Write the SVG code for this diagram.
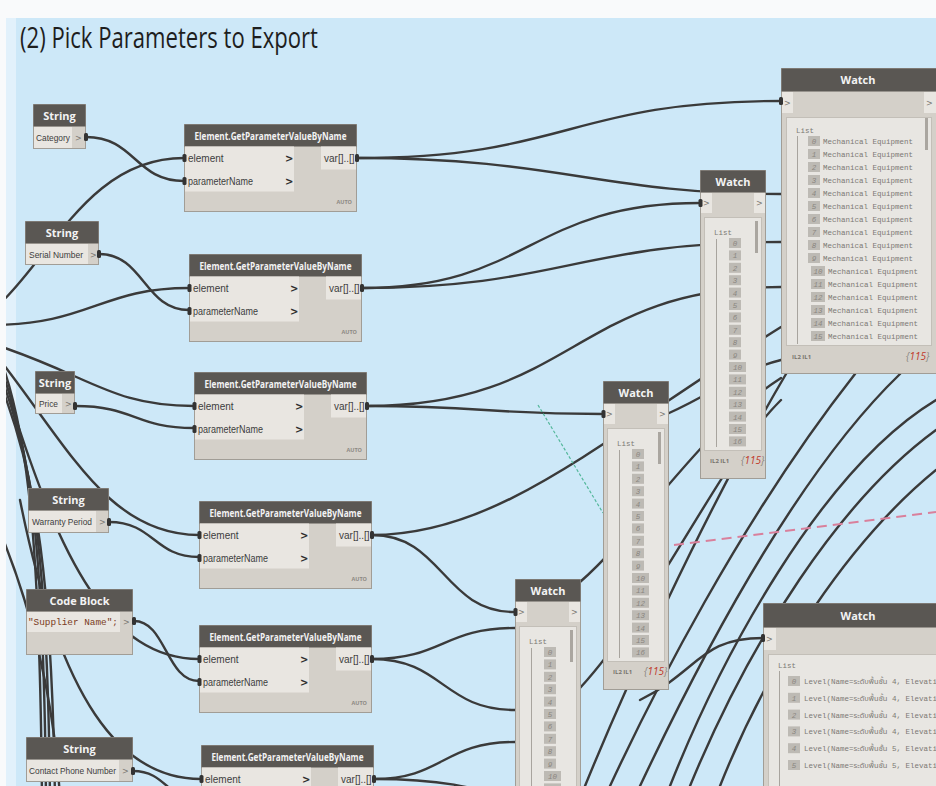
<svg xmlns="http://www.w3.org/2000/svg" width="936" height="786" viewBox="0 0 936 786">
<defs>
<style>
.wire{fill:none;stroke:#3a3a3a;stroke-width:2.4;stroke-linecap:round}
.nb{fill:#d4d0c9;stroke:#a19d96;stroke-width:1}
.nh{fill:#5a5753}
.cell{fill:#e9e6e1}
.panel{fill:#e8e6e2;stroke:#c3bfb8;stroke-width:1}
.ht{font-family:"Open Sans","Noto Sans",sans-serif;font-weight:700;font-size:11px;fill:#f3f3f3}
.lt{font-family:"Liberation Sans",Arial,sans-serif;font-size:10px;fill:#3d3d3d}
.sl{font-family:"Liberation Sans",Arial,sans-serif;font-size:9px;fill:#3d3d3d}
.chev{font-family:"DejaVu Sans",sans-serif;font-weight:bold;font-size:10px;fill:#2e2e2e}
.gt{font-family:"DejaVu Sans",sans-serif;font-size:8px;fill:#7a7772}
.auto{font-family:"Open Sans",sans-serif;font-weight:700;font-size:5.5px;fill:#8d8983}
.mono{font-family:"Liberation Mono","DejaVu Sans Mono","Noto Sans Thai",monospace;font-size:7.5px;fill:#7c7974}
.idx{fill:#bdbab4}
.idt{font-family:"Liberation Mono","DejaVu Sans Mono",monospace;font-size:7.5px;fill:#8a8680;font-style:italic;text-anchor:middle}
.ftr{font-family:"Open Sans",sans-serif;font-weight:700;font-size:6px;fill:#77736d}
.cnt{font-family:"Open Sans",sans-serif;font-style:italic;font-size:10px;fill:#8a8680}
.red{fill:#c0392b}
.port{fill:#333}
.vl{stroke:#a8a49e;stroke-width:1}
</style>

<!-- Element.GetParameterValueByName node body -->
<g id="egp">
<rect class="nb" x="0.5" y="0.5" width="172" height="87"/>
<rect class="nh" x="0.5" y="0.5" width="172" height="22"/>
<text class="ht" x="86.5" y="15.5" text-anchor="middle" textLength="152" lengthAdjust="spacingAndGlyphs">Element.GetParameterValueByName</text>
<rect class="cell" x="1" y="22.5" width="109" height="45"/>
<text class="lt" x="4" y="38">element</text>
<text class="lt" x="4" y="61" textLength="65" lengthAdjust="spacingAndGlyphs">parameterName</text>
<text class="chev" x="101" y="38">&gt;</text>
<text class="chev" x="101" y="61">&gt;</text>
<rect class="cell" x="137" y="22.5" width="35" height="23"/>
<text class="lt" x="140" y="38">var[]..[]</text>
<text class="auto" x="168" y="80" text-anchor="end">AUTO</text>
<rect class="port" x="-1.5" y="30" width="4" height="8" rx="1.5"/>
<rect class="port" x="-1.5" y="53" width="4" height="8" rx="1.5"/>
<rect class="port" x="171" y="30" width="4" height="8" rx="1.5"/>
</g>

<!-- narrow Watch node with an index-only list -->
<g id="wn">
<rect class="nb" x="0.5" y="0.5" width="65" height="308"/>
<rect class="nh" x="0.5" y="0.5" width="65" height="22"/>
<text class="ht" x="33" y="15.5" text-anchor="middle">Watch</text>
<rect class="cell" x="1" y="23" width="11" height="20"/>
<rect class="cell" x="54" y="23" width="11" height="20"/>
<text class="gt" x="3" y="36">&gt;</text>
<text class="gt" x="56" y="36">&gt;</text>
<rect class="panel" x="4.5" y="47.5" width="57" height="233"/>
<text class="mono" x="14" y="65">List</text>
<line class="vl" x1="16.5" y1="69" x2="16.5" y2="277"/>
<rect x="55" y="51" width="3" height="32" fill="#aaa6a0"/>
<g>
<rect class="idx" x="29" y="68" width="12" height="10"/><text class="idt" x="35" y="76">0</text>
<rect class="idx" x="29" y="80.4" width="12" height="10"/><text class="idt" x="35" y="88.4">1</text>
<rect class="idx" x="29" y="92.8" width="12" height="10"/><text class="idt" x="35" y="100.8">2</text>
<rect class="idx" x="29" y="105.2" width="12" height="10"/><text class="idt" x="35" y="113.2">3</text>
<rect class="idx" x="29" y="117.6" width="12" height="10"/><text class="idt" x="35" y="125.6">4</text>
<rect class="idx" x="29" y="130" width="12" height="10"/><text class="idt" x="35" y="138">5</text>
<rect class="idx" x="29" y="142.4" width="12" height="10"/><text class="idt" x="35" y="150.4">6</text>
<rect class="idx" x="29" y="154.8" width="12" height="10"/><text class="idt" x="35" y="162.8">7</text>
<rect class="idx" x="29" y="167.2" width="12" height="10"/><text class="idt" x="35" y="175.2">8</text>
<rect class="idx" x="29" y="179.6" width="12" height="10"/><text class="idt" x="35" y="187.6">9</text>
<rect class="idx" x="29" y="192" width="17" height="10"/><text class="idt" x="37.5" y="200">10</text>
<rect class="idx" x="29" y="204.4" width="17" height="10"/><text class="idt" x="37.5" y="212.4">11</text>
<rect class="idx" x="29" y="216.8" width="17" height="10"/><text class="idt" x="37.5" y="224.8">12</text>
<rect class="idx" x="29" y="229.2" width="17" height="10"/><text class="idt" x="37.5" y="237.2">13</text>
<rect class="idx" x="29" y="241.6" width="17" height="10"/><text class="idt" x="37.5" y="249.6">14</text>
<rect class="idx" x="29" y="254" width="17" height="10"/><text class="idt" x="37.5" y="262">15</text>
<rect class="idx" x="29" y="266.4" width="17" height="10"/><text class="idt" x="37.5" y="274.4">16</text>
</g>
<text class="ftr" x="10" y="293">IL2 IL1</text>
<text class="cnt" x="41" y="294">{<tspan class="red">115</tspan>}</text>
<rect class="port" x="-1.5" y="29" width="4" height="8" rx="1.5"/>
</g>

<clipPath id="canvas"><rect x="6" y="18" width="930" height="768"/></clipPath>
</defs>

<!-- canvas -->
<rect width="936" height="786" fill="#f9fafb"/>
<rect x="6" y="18" width="930" height="768" fill="#cde8f8"/>
<rect x="6" y="18" width="10" height="768" fill="#e2f1fb"/>

<text x="20" y="48" font-family="Open Sans, Noto Sans, sans-serif" font-size="30" fill="#1e1e1e" textLength="298" lengthAdjust="spacingAndGlyphs">(2) Pick Parameters to Export</text>

<!-- connectors -->
<g id="connectors" clip-path="url(#canvas)">
<!-- string inputs to parameterName -->
<path class="wire" d="M86,137 C135,137 135,181 184,181"/>
<path class="wire" d="M99,254 C144,254 144,310 189,310"/>
<path class="wire" d="M75,406 C135,406 135,428 194,428"/>
<path class="wire" d="M109,522 C154,522 154,557 199,557"/>
<path class="wire" d="M134,621 C166,621 166,681 199,681"/>
<path class="wire" d="M133,771 C167,771 167,801 201,801"/>
<!-- element inputs from the left -->
<path class="wire" d="M-40,330 C40,300 70,158 184,158"/>
<path class="wire" d="M-10,325 C90,325 100,288 189,288"/>
<path class="wire" d="M-10,343 C90,375 110,406 194,406"/>
<path class="wire" d="M0,360 C70,450 110,535 199,535"/>
<path class="wire" d="M10,400 C60,560 110,659 199,659"/>
<path class="wire" d="M20,500 C60,700 120,779 201,779"/>
<path class="wire" d="M-5,520 C30,600 55,700 60,800"/>
<!-- bundle running down the left side -->
<path class="wire" d="M5,372 C30,450 40,560 42,800"/>
<path class="wire" d="M5,380 C32,460 44,560 46,800"/>
<path class="wire" d="M5,388 C34,470 48,570 50,800"/>
<path class="wire" d="M5,396 C36,480 52,580 55,800"/>
<!-- outputs to watches -->
<path class="wire" d="M357,158 C569,158 569,101 781,101"/>
<path class="wire" d="M357,158 C560,158 600,194 781,194"/>
<path class="wire" d="M362,288 C530,288 530,203 700,203"/>
<path class="wire" d="M362,288 C560,288 580,242 781,242"/>
<path class="wire" d="M367,406 C485,406 485,414 603,414"/>
<path class="wire" d="M367,406 C574,406 574,287 781,287"/>
<path class="wire" d="M372,535 C443,535 443,612 515,612"/>
<path class="wire" d="M372,535 C500,535 600,440 781,327"/>
<path class="wire" d="M372,659 C443,659 443,628 515,628"/>
<path class="wire" d="M372,659 C443,659 443,710 515,710"/>
<path class="wire" d="M374,779 C443,779 443,742 515,742"/>
<path class="wire" d="M374,779 C450,779 480,790 515,800"/>
<!-- watch outputs and long runs to the right -->
<path class="wire" d="M667,414 C720,390 740,370 781,360"/>
<path class="wire" d="M580,582 C640,530 700,430 781,378"/>
<path class="wire" d="M580,688 C660,600 720,460 781,400"/>
<path class="wire" d="M640,700 C700,670 700,638 763,638"/>
<path class="wire" d="M585,786 C620,700 700,520 786,374"/>
<path class="wire" d="M610,786 C650,700 740,520 855,374"/>
<path class="wire" d="M640,786 C690,680 790,480 900,374"/>
<path class="wire" d="M670,786 C720,660 820,470 936,400"/>
<path class="wire" d="M690,786 C750,640 840,500 936,430"/>
<path class="wire" d="M720,786 C770,660 850,540 936,470"/>
<!-- dashed guides -->
<line x1="538" y1="405" x2="603" y2="513" stroke="#55b89c" stroke-width="1.2" stroke-dasharray="3,2"/>
<line x1="674" y1="545" x2="936" y2="512" stroke="#d9809c" stroke-width="2" stroke-dasharray="10,6"/>
</g>

<!-- string nodes -->
<g id="str-category">
<rect class="nb" x="33.5" y="104.5" width="52" height="44"/>
<rect class="nh" x="33.5" y="104.5" width="52" height="22"/>
<text class="ht" x="59.5" y="119.5" text-anchor="middle">String</text>
<rect class="cell" x="34" y="127" width="38" height="21"/>
<text class="sl" x="36" y="141" textLength="34" lengthAdjust="spacingAndGlyphs">Category</text>
<text class="gt" x="75" y="141">&gt;</text>
<rect class="port" x="84" y="133" width="4" height="8" rx="1.5"/>
</g>
<g id="str-serial">
<rect class="nb" x="25.5" y="221.5" width="73" height="43"/>
<rect class="nh" x="25.5" y="221.5" width="73" height="22"/>
<text class="ht" x="62" y="236.5" text-anchor="middle">String</text>
<rect class="cell" x="26" y="244" width="62" height="20"/>
<text class="sl" x="29" y="258" textLength="54" lengthAdjust="spacingAndGlyphs">Serial Number</text>
<text class="gt" x="90" y="258">&gt;</text>
<rect class="port" x="97" y="250" width="4" height="8" rx="1.5"/>
</g>
<g id="str-price">
<rect class="nb" x="35.5" y="371.5" width="39" height="42"/>
<rect class="nh" x="35.5" y="371.5" width="39" height="22"/>
<text class="ht" x="55" y="386.5" text-anchor="middle">String</text>
<rect class="cell" x="36" y="394" width="26" height="19"/>
<text class="sl" x="39" y="407" textLength="19" lengthAdjust="spacingAndGlyphs">Price</text>
<text class="gt" x="65" y="407">&gt;</text>
<rect class="port" x="73" y="402" width="4" height="8" rx="1.5"/>
</g>
<g id="str-warranty">
<rect class="nb" x="28.5" y="488.5" width="80" height="44"/>
<rect class="nh" x="28.5" y="488.5" width="80" height="22"/>
<text class="ht" x="68.5" y="503.5" text-anchor="middle">String</text>
<rect class="cell" x="29" y="511" width="67" height="21"/>
<text class="sl" x="32" y="525" font-size="8.5" textLength="60" lengthAdjust="spacingAndGlyphs">Warranty Period</text>
<text class="gt" x="99" y="525">&gt;</text>
<rect class="port" x="107" y="518" width="4" height="8" rx="1.5"/>
</g>
<g id="code-block">
<rect class="nb" x="26.5" y="589.5" width="106" height="65"/>
<rect class="nh" x="26.5" y="589.5" width="106" height="22"/>
<text class="ht" x="79.5" y="604.5" text-anchor="middle">Code Block</text>
<rect class="cell" x="27" y="612" width="93" height="20"/>
<text x="28" y="625" font-family="Liberation Mono, DejaVu Sans Mono, monospace" font-size="9.5" fill="#7a3b22" textLength="90" lengthAdjust="spacingAndGlyphs">"Supplier Name";</text>
<text class="gt" x="123" y="625">&gt;</text>
<rect class="port" x="132" y="617" width="4" height="8" rx="1.5"/>
</g>
<g id="str-contact">
<rect class="nb" x="26.5" y="737.5" width="106" height="44"/>
<rect class="nh" x="26.5" y="737.5" width="106" height="22"/>
<text class="ht" x="79.5" y="752.5" text-anchor="middle">String</text>
<rect class="cell" x="27" y="760" width="92" height="21"/>
<text class="sl" x="29" y="774" font-size="8.5" textLength="87" lengthAdjust="spacingAndGlyphs">Contact Phone Number</text>
<text class="gt" x="122" y="774">&gt;</text>
<rect class="port" x="131" y="767" width="4" height="8" rx="1.5"/>
</g>

<!-- Element.GetParameterValueByName nodes -->
<g id="gpv-1"><use href="#egp" x="184" y="124"/></g>
<g id="gpv-2"><use href="#egp" x="189" y="254"/></g>
<g id="gpv-3"><use href="#egp" x="194" y="372"/></g>
<g id="gpv-4"><use href="#egp" x="199" y="501"/></g>
<g id="gpv-5"><use href="#egp" x="199" y="625"/></g>
<g id="gpv-6"><use href="#egp" x="201" y="745"/></g>

<!-- narrow watch nodes -->
<g id="watch-2"><use href="#wn" x="700" y="170"/></g>
<g id="watch-3"><use href="#wn" x="603" y="381"/></g>
<g id="watch-4"><use href="#wn" x="515" y="579"/></g>

<!-- category watch -->
<g id="watch-1">
<rect class="nb" x="781.5" y="68.5" width="155" height="305"/>
<rect class="nh" x="781.5" y="68.5" width="155" height="23"/>
<text class="ht" x="858" y="84" text-anchor="middle">Watch</text>
<rect class="cell" x="782" y="92" width="11" height="21"/>
<rect class="cell" x="924" y="92" width="12" height="21"/>
<text class="gt" x="784" y="106">&gt;</text>
<text class="gt" x="926" y="106">&gt;</text>
<rect class="port" x="779" y="97" width="4" height="8" rx="1.5"/>
<rect class="panel" x="786.5" y="117.5" width="145" height="228"/>
<text class="mono" x="796" y="133">List</text>
<line class="vl" x1="797.5" y1="136" x2="797.5" y2="344"/>
<rect x="925" y="118" width="3" height="32" fill="#aaa6a0"/>
<g>
<rect class="idx" x="808" y="136" width="12" height="10"/><text class="idt" x="814" y="144">0</text><text class="mono" x="823" y="144">Mechanical Equipment</text>
<rect class="idx" x="808" y="149" width="12" height="10"/><text class="idt" x="814" y="157">1</text><text class="mono" x="823" y="157">Mechanical Equipment</text>
<rect class="idx" x="808" y="162" width="12" height="10"/><text class="idt" x="814" y="170">2</text><text class="mono" x="823" y="170">Mechanical Equipment</text>
<rect class="idx" x="808" y="175" width="12" height="10"/><text class="idt" x="814" y="183">3</text><text class="mono" x="823" y="183">Mechanical Equipment</text>
<rect class="idx" x="808" y="188" width="12" height="10"/><text class="idt" x="814" y="196">4</text><text class="mono" x="823" y="196">Mechanical Equipment</text>
<rect class="idx" x="808" y="201" width="12" height="10"/><text class="idt" x="814" y="209">5</text><text class="mono" x="823" y="209">Mechanical Equipment</text>
<rect class="idx" x="808" y="214" width="12" height="10"/><text class="idt" x="814" y="222">6</text><text class="mono" x="823" y="222">Mechanical Equipment</text>
<rect class="idx" x="808" y="227" width="12" height="10"/><text class="idt" x="814" y="235">7</text><text class="mono" x="823" y="235">Mechanical Equipment</text>
<rect class="idx" x="808" y="240" width="12" height="10"/><text class="idt" x="814" y="248">8</text><text class="mono" x="823" y="248">Mechanical Equipment</text>
<rect class="idx" x="808" y="253" width="12" height="10"/><text class="idt" x="814" y="261">9</text><text class="mono" x="823" y="261">Mechanical Equipment</text>
<rect class="idx" x="811" y="266" width="14" height="10"/><text class="idt" x="818" y="274">10</text><text class="mono" x="828" y="274">Mechanical Equipment</text>
<rect class="idx" x="811" y="279" width="14" height="10"/><text class="idt" x="818" y="287">11</text><text class="mono" x="828" y="287">Mechanical Equipment</text>
<rect class="idx" x="811" y="292" width="14" height="10"/><text class="idt" x="818" y="300">12</text><text class="mono" x="828" y="300">Mechanical Equipment</text>
<rect class="idx" x="811" y="305" width="14" height="10"/><text class="idt" x="818" y="313">13</text><text class="mono" x="828" y="313">Mechanical Equipment</text>
<rect class="idx" x="811" y="318" width="14" height="10"/><text class="idt" x="818" y="326">14</text><text class="mono" x="828" y="326">Mechanical Equipment</text>
<rect class="idx" x="811" y="331" width="14" height="10"/><text class="idt" x="818" y="339">15</text><text class="mono" x="828" y="339">Mechanical Equipment</text>
</g>
<text class="ftr" x="792" y="359">IL2 IL1</text>
<text class="cnt" x="906" y="360">{<tspan class="red">115</tspan>}</text>
</g>

<!-- level watch -->
<g id="watch-5">
<rect class="nb" x="763.5" y="603.5" width="190" height="200"/>
<rect class="nh" x="763.5" y="603.5" width="190" height="24"/>
<text class="ht" x="858" y="620" text-anchor="middle">Watch</text>
<rect class="cell" x="764" y="628" width="12" height="22"/>
<text class="gt" x="766" y="642">&gt;</text>
<rect class="port" x="761" y="634" width="4" height="8" rx="1.5"/>
<rect class="panel" x="768.5" y="654.5" width="190" height="150"/>
<text class="mono" x="778" y="668">List</text>
<line class="vl" x1="779.5" y1="671" x2="779.5" y2="786"/>
<rect class="idx" x="788" y="676" width="12" height="10"/><text class="idt" x="794" y="684">0</text><text class="mono" x="804" y="684">Level(Name=ระดับพื้นชั้น 4, Elevati</text>
<rect class="idx" x="788" y="692.8" width="12" height="10"/><text class="idt" x="794" y="700.8">1</text><text class="mono" x="804" y="700.8">Level(Name=ระดับพื้นชั้น 4, Elevati</text>
<rect class="idx" x="788" y="709.6" width="12" height="10"/><text class="idt" x="794" y="717.6">2</text><text class="mono" x="804" y="717.6">Level(Name=ระดับพื้นชั้น 4, Elevati</text>
<rect class="idx" x="788" y="726.4" width="12" height="10"/><text class="idt" x="794" y="734.4">3</text><text class="mono" x="804" y="734.4">Level(Name=ระดับพื้นชั้น 4, Elevati</text>
<rect class="idx" x="788" y="743.2" width="12" height="10"/><text class="idt" x="794" y="751.2">4</text><text class="mono" x="804" y="751.2">Level(Name=ระดับพื้นชั้น 5, Elevati</text>
<rect class="idx" x="788" y="760" width="12" height="10"/><text class="idt" x="794" y="768">5</text><text class="mono" x="804" y="768">Level(Name=ระดับพื้นชั้น 5, Elevati</text>
</g>
</svg>
